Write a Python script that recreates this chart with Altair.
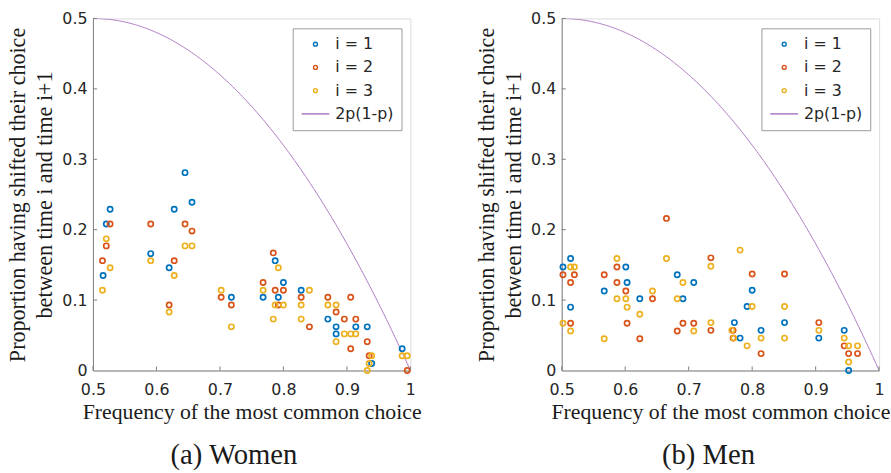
import altair as alt
import pandas as pd
import numpy as np

SERIES = ["i = 1", "i = 2", "i = 3", "2p(1-p)"]
COLORS = ["#0072BD", "#D95319", "#EDB120", "#A66FBF"]

# ---------------- Women ----------------
w1_x = [0.516, 0.521, 0.527, 0.591, 0.620, 0.628, 0.645, 0.656, 0.718, 0.768, 0.787, 0.792,
        0.800, 0.828, 0.870, 0.883, 0.883, 0.914, 0.932, 0.939, 0.987]
w1_y = [0.135, 0.208, 0.229, 0.166, 0.146, 0.229, 0.281, 0.239, 0.104, 0.104, 0.156, 0.104,
        0.125, 0.114, 0.073, 0.062, 0.052, 0.062, 0.062, 0.010, 0.031]
w2_x = [0.515, 0.521, 0.527, 0.591, 0.620, 0.628, 0.645, 0.656, 0.702, 0.718, 0.768, 0.784,
        0.787, 0.800, 0.792, 0.828, 0.841, 0.870, 0.883, 0.896, 0.906, 0.914, 0.906, 0.932,
        0.935, 0.995]
w2_y = [0.156, 0.177, 0.208, 0.208, 0.093, 0.156, 0.208, 0.198, 0.104, 0.093, 0.125, 0.167,
        0.114, 0.114, 0.093, 0.104, 0.062, 0.104, 0.083, 0.073, 0.104, 0.073, 0.031, 0.041,
        0.021, 0.000]
w3_x = [0.515, 0.521, 0.527, 0.591, 0.620, 0.628, 0.645, 0.656, 0.702, 0.718, 0.768, 0.792,
        0.787, 0.800, 0.784, 0.828, 0.828, 0.841, 0.870, 0.883, 0.883, 0.896, 0.906, 0.914,
        0.939, 0.935, 0.932, 0.987, 0.995]
w3_y = [0.114, 0.187, 0.146, 0.156, 0.083, 0.135, 0.177, 0.177, 0.114, 0.062, 0.114, 0.146,
        0.093, 0.093, 0.073, 0.093, 0.073, 0.114, 0.093, 0.093, 0.041, 0.052, 0.052, 0.052,
        0.021, 0.010, 0.000, 0.021, 0.021]

# ---------------- Men ----------------
m1_x = [0.502, 0.514, 0.514, 0.567, 0.601, 0.603, 0.623, 0.682, 0.691, 0.708, 0.772, 0.781,
        0.800, 0.792, 0.814, 0.851, 0.905, 0.945, 0.952]
m1_y = [0.147, 0.159, 0.090, 0.113, 0.147, 0.125, 0.102, 0.136, 0.102, 0.125, 0.068, 0.046,
        0.114, 0.091, 0.057, 0.068, 0.046, 0.057, 0.000]
m2_x = [0.502, 0.520, 0.514, 0.514, 0.567, 0.587, 0.587, 0.601, 0.603, 0.623, 0.643, 0.665,
        0.682, 0.691, 0.708, 0.735, 0.735, 0.770, 0.770, 0.800, 0.814, 0.851, 0.905, 0.945,
        0.952, 0.966]
m2_y = [0.136, 0.136, 0.125, 0.067, 0.136, 0.147, 0.125, 0.113, 0.067, 0.045, 0.102, 0.216,
        0.056, 0.067, 0.067, 0.160, 0.057, 0.057, 0.046, 0.137, 0.024, 0.137, 0.068, 0.035,
        0.024, 0.024]
m3_x = [0.514, 0.520, 0.502, 0.514, 0.567, 0.587, 0.587, 0.601, 0.603, 0.623, 0.643, 0.665,
        0.682, 0.691, 0.708, 0.735, 0.735, 0.781, 0.768, 0.771, 0.792, 0.800, 0.814, 0.851,
        0.851, 0.905, 0.945, 0.952, 0.952, 0.966]
m3_y = [0.147, 0.147, 0.067, 0.056, 0.045, 0.159, 0.102, 0.102, 0.090, 0.080, 0.113, 0.159,
        0.102, 0.125, 0.056, 0.148, 0.068, 0.171, 0.057, 0.046, 0.035, 0.091, 0.046, 0.091,
        0.046, 0.057, 0.046, 0.035, 0.012, 0.035]

# curve p grid (the curve itself is 2p(1-p), computed by Vega-Lite)
p_grid = list(np.round(np.linspace(0.5, 1.0, 201), 5))

x_ticks = [0.5, 0.6, 0.7, 0.8, 0.9, 1.0]
y_ticks = [0, 0.1, 0.2, 0.3, 0.4, 0.5]

SANS = "DejaVu Sans"
SERIF = "Liberation Serif"
GRAY = "#808080"


def long_df(groups):
    rows = []
    for name, xs, ys in groups:
        for a, b in zip(xs, ys):
            rows.append({"x": a, "y": b, "series": name})
    return pd.DataFrame(rows)


def panel(df, caption, dx):
    xsc = alt.Scale(domain=[0.5, 1.0], nice=False, zero=False)
    ysc = alt.Scale(domain=[0, 0.5], nice=False)
    leg = alt.Legend(title=None, orient="none", legendX=202, legendY=10,
                     fillColor="white", strokeColor="#9a9a9a", padding=8,
                     labelFont=SANS, labelFontSize=16, labelColor="#262626",
                     symbolSize=16, symbolOffset=7, labelOffset=12,
                     symbolStrokeWidth=1.4, rowPadding=7.5)
    color = alt.Color("series:N", scale=alt.Scale(domain=SERIES, range=COLORS), legend=leg)
    shape = alt.Shape("series:N", scale=alt.Scale(domain=SERIES,
                      range=["circle", "circle", "circle", "M-7,0H7"]), legend=leg)

    xax = alt.Axis(values=x_ticks, format="~g", tickSize=0, labelPadding=11, labelFlush=False,
                   labelFont=SANS, labelFontSize=16, labelColor="#262626",
                   domainColor=GRAY, grid=False,
                   title="Frequency of the most common choice",
                   titleFont=SERIF, titleFontSize=22, titleFontWeight="normal",
                   titleColor="#1a1a1a", titlePadding=5)
    yax = alt.Axis(values=y_ticks, format="~g", tickSize=0, labelPadding=6, labelFlush=False,
                   labelFont=SANS, labelFontSize=16, labelColor="#262626",
                   domainColor=GRAY, grid=False,
                   title=["Proportion having shifted their choice", "between time i and time i+1"],
                   titleFont=SERIF, titleFontSize=22.3, titleFontWeight="normal",
                   titleColor="#1a1a1a", titlePadding=5, titleLineHeight=28)

    curve = alt.Chart(pd.DataFrame({"p": p_grid})).transform_calculate(
        q="2*datum.p*(1-datum.p)", series="'2p(1-p)'"
    ).mark_line(strokeWidth=0.9, clip=True).encode(
        x=alt.X("p:Q", scale=xsc, axis=xax),
        y=alt.Y("q:Q", scale=ysc, axis=yax),
        color=color,
    )
    pts = alt.Chart(df).mark_point(filled=False, strokeWidth=1.7, opacity=1, size=28).encode(
        x=alt.X("x:Q", scale=xsc, axis=xax),
        y=alt.Y("y:Q", scale=ysc, axis=yax),
        color=color, shape=shape,
    )
    xt = alt.Chart(pd.DataFrame({"t": x_ticks})).mark_rule(color=GRAY, strokeWidth=1).encode(
        x="t:Q", y=alt.datum(0), y2=alt.datum(0.0058))
    yt = alt.Chart(pd.DataFrame({"t": y_ticks[1:]})).mark_rule(color=GRAY, strokeWidth=1).encode(
        y="t:Q", x=alt.datum(0.5), x2=alt.datum(0.5065))
    return alt.layer(curve, pts, xt, yt).properties(
        width=321, height=356,
        title=alt.TitleParams(caption, orient="bottom", font=SERIF, fontSize=29,
                              fontWeight="normal", color="#1a1a1a", anchor="middle",
                              frame="group", dx=dx, offset=19),
    )


women = long_df([("i = 1", w1_x, w1_y), ("i = 2", w2_x, w2_y), ("i = 3", w3_x, w3_y)])
men = long_df([("i = 1", m1_x, m1_y), ("i = 2", m2_x, m2_y), ("i = 3", m3_x, m3_y)])

chart = alt.hconcat(
    panel(women, "(a) Women", -18),
    panel(men, "(b) Men", -12),
    spacing=53,
).resolve_scale(color="independent", shape="independent").resolve_legend(
    color="independent", shape="independent"
).configure_view(stroke=None).configure(padding={"left": 6, "top": 7, "right": 0, "bottom": 0},
                                        background="white")

chart.save("out.html", embed_options={"renderer": "svg", "actions": False})
